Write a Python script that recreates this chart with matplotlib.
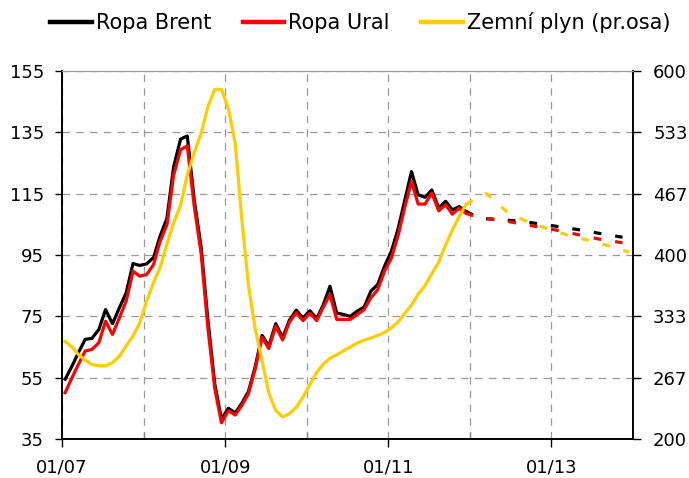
import numpy as np
import pandas as pd
import matplotlib
matplotlib.use("Agg")
import matplotlib.pyplot as plt
import matplotlib.dates as mdates
from matplotlib.ticker import FixedLocator

# monthly averages 01/2007 - 12/2011 (USD/bbl, gas on right axis)
brent = [54.5, 58.8, 63.1, 67.5, 67.8, 70.7, 77.2, 72.6, 77.8, 82.6, 92.2, 91.6,
         92.1, 94.2, 101.1, 107.0, 123.8, 132.8, 133.8, 113.0, 97.5, 74.0, 53.0, 41.5,
         45.0, 43.5, 46.5, 50.5, 58.5, 68.8, 65.3, 72.6, 68.0, 73.7, 77.0, 74.5,
         76.8, 74.3, 78.6, 84.8, 76.1, 75.6, 75.0, 76.7, 78.0, 83.2, 85.4, 91.3,
         96.2, 103.8, 112.5, 122.2, 114.6, 113.8, 116.2, 110.3, 112.5, 109.7, 110.8, 109.2]
ural = [50.1, 55.0, 59.3, 63.7, 64.2, 66.4, 73.4, 69.1, 74.5, 79.9, 89.7, 88.1,
        88.6, 91.9, 99.4, 104.9, 121.1, 129.3, 130.6, 111.0, 95.5, 71.5, 51.5, 40.3,
        44.2, 42.8, 45.8, 49.8, 57.8, 68.2, 64.5, 71.8, 67.3, 73.0, 76.2, 73.6,
        76.0, 73.6, 77.8, 82.1, 74.0, 74.0, 74.0, 75.6, 77.2, 81.0, 83.7, 89.7,
        94.0, 101.6, 110.3, 119.0, 111.6, 111.6, 115.2, 109.4, 111.4, 108.3, 110.3, 108.6]
gas = [306, 300, 292, 285.5, 281, 279.5, 279.5, 283, 290, 301, 312, 326,
       350, 370, 386, 412, 435, 454, 487, 511, 532, 561, 580, 580,
       559, 521, 442, 367, 320, 285, 250, 231, 224, 227.5, 234.5, 245.5,
       259, 272.6, 281, 287.7, 291.5, 296, 300, 304.3, 307.4, 309.8, 312.6, 315.7,
       320.8, 327.4, 336.3, 345.5, 357.4, 366.8, 379.7, 392, 411, 427, 442, 455]

# forecasts (quarterly), starting from last actual month
oil_fc_dates = ["2011-12-15", "2012-02-15", "2012-05-15", "2012-08-15", "2012-11-15",
                "2013-02-15", "2013-05-15", "2013-08-15", "2013-11-15"]
brent_fc = [109.2, 107.0, 106.5, 106.0, 105.1, 104.1, 103.1, 101.9, 100.8]
ural_fc = [108.6, 107.1, 106.4, 105.2, 104.0, 102.8, 101.4, 100.0, 99.0]
gas_fc_dates = ["2011-12-15", "2012-03-15", "2012-06-15", "2012-09-15", "2012-12-15",
                "2013-03-15", "2013-06-15", "2013-09-15", "2013-12-15"]
gas_fc = [455, 467, 447, 436, 428.5, 421.5, 416, 410, 403]

left_ticks = [35, 55, 75, 95, 115, 135, 155]
right_ticks = np.linspace(200, 600, 7)
label_years = ["2007-01-01", "2009-01-01", "2011-01-01", "2013-01-01"]
other_years = ["2008-01-01", "2010-01-01", "2012-01-01"]

dates = pd.date_range("2007-01-01", periods=len(brent), freq="MS") + pd.Timedelta(days=14)
oil_fc_x = pd.to_datetime(oil_fc_dates)
gas_fc_x = pd.to_datetime(gas_fc_dates)

c_brent = "black"
c_ural = "#ff0000"
c_gas = "#ffcc00"
lw = 2.3
dash = (2.4, 4.4)

plt.rcParams["font.family"] = ["DejaVu Sans"]
plt.rcParams["font.size"] = 13

fig = plt.figure(figsize=(6.89, 4.78), dpi=100)
ax = fig.add_axes([0.090, 0.0816, 0.8287, 0.7699])
ax2 = ax.twinx()

ax.plot(dates, brent, color=c_brent, lw=lw, label="Ropa Brent")
ax.plot(dates, ural, color=c_ural, lw=lw, label="Ropa Ural")
ax.plot(oil_fc_x, brent_fc, color=c_brent, lw=lw, dashes=dash)
ax.plot(oil_fc_x, ural_fc, color=c_ural, lw=lw, dashes=dash)
ax2.plot(dates, gas, color=c_gas, lw=lw, label="Zemní plyn (pr.osa)")
ax2.plot(gas_fc_x, gas_fc, color=c_gas, lw=lw, dashes=dash)

ax.set_xlim(pd.Timestamp("2007-01-01"), pd.Timestamp("2014-01-01"))
ax.set_ylim(35, 155)
ax.set_yticks(left_ticks)
ax2.set_ylim(200, 600)
ax2.set_yticks(right_ticks)
ax2.set_yticklabels([f"{v:.0f}" for v in right_ticks])

ax.xaxis.set_major_locator(FixedLocator(mdates.date2num(pd.to_datetime(label_years))))
ax.xaxis.set_minor_locator(FixedLocator(mdates.date2num(pd.to_datetime(other_years))))
ax.xaxis.set_major_formatter(mdates.DateFormatter("%m/%y"))

grid_kw = dict(color="#999999", linestyle=(0, (6, 5)), linewidth=0.9)
ax.grid(True, which="major", axis="y", **grid_kw)
ax.grid(True, which="both", axis="x", **grid_kw)
ax.set_axisbelow(True)

ax.tick_params(axis="x", which="major", direction="out", length=6, width=1, pad=8)
ax.tick_params(axis="x", which="minor", direction="in", length=5, width=1, color="#888888")
ax.tick_params(axis="y", direction="out", length=5, width=1, pad=8)
ax2.tick_params(axis="y", direction="out", length=6, width=1, pad=8.5)

for a in (ax, ax2):
    a.spines["top"].set_color("#999999")
    a.spines["left"].set_linewidth(1.2)
    a.spines["right"].set_linewidth(1.2)
    a.spines["bottom"].set_linewidth(1.2)

h1, l1 = ax.get_legend_handles_labels()
h2, l2 = ax2.get_legend_handles_labels()
leg = fig.legend(h1 + h2, l1 + l2, loc="center", bbox_to_anchor=(0.523, 0.952), ncol=3,
                 frameon=False, handlelength=2.0, handletextpad=0.2, columnspacing=1.5,
                 fontsize=15)
for line in leg.get_lines():
    line.set_linewidth(3.2)

fig.savefig("out.png", dpi=100)
